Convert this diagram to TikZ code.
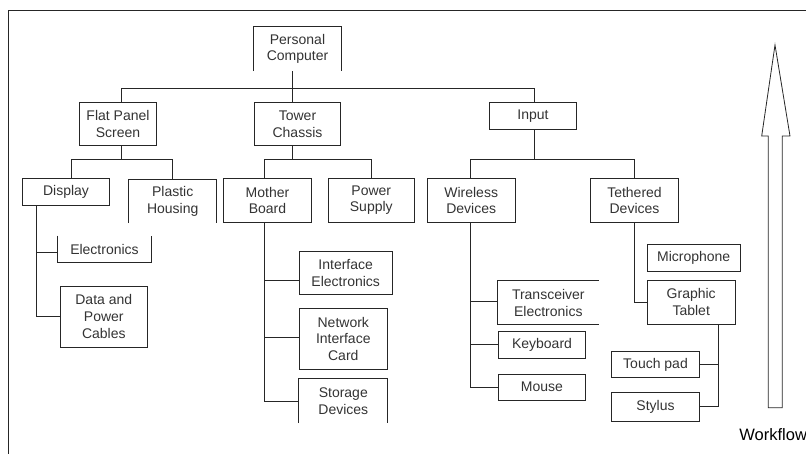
\documentclass[tikz,border=0pt]{standalone}
\usepackage{fontspec}
\setmainfont{Liberation Sans}
\begin{document}
\begin{tikzpicture}[x=1pt,y=-1pt,
  line width=0.9pt, draw=black!85,
  lbl/.style={inner sep=0pt, align=center, text=black!80,
    font=\fontsize{14}{16.6}\selectfont},
  bx/.style 2 args={lbl, draw, minimum width=#1pt, minimum height=#2pt},
  ob/.style 2 args={lbl, minimum width=#1pt, minimum height=#2pt},
  wire/.style={draw=black!85, line width=0.9pt}]
\useasboundingbox (0,0) rectangle (806,454);
% frame
\draw[wire] (8.3,454) -- (8.3,10) -- (806,10);
% level 0
\node[ob={86.4}{43.4}] (pc) at (297.5,49) {Personal\\Computer};
\draw[wire] (pc.south west) -- (pc.north west) -- (pc.north east) -- (pc.south east);
% level 1
\node[bx={77.4}{43}] (fps) at (118,124.2) {Flat Panel\\Screen};
\node[bx={86.4}{43}] (tc) at (297.5,124.2) {Tower\\Chassis};
\node[bx={87.4}{26.6}] (inp) at (533,116) {Input};
% level 2
\node[bx={86.6}{26.7}] (disp) at (66,191.7) {Display};
\node[ob={86.7}{42.7}] (ph) at (172.7,201.3) {Plastic\\Housing};
\draw[wire] (ph.south west) -- (ph.north west) -- (ph.north east) -- (ph.south east);
\node[bx={88.4}{44}] (mb) at (267.5,200.3) {Mother\\Board};
\node[bx={86}{44}] (ps) at (371.3,200.3) {Power\\Supply};
\node[bx={87.7}{44}] (wd) at (471.2,200.3) {Wireless\\Devices};
\node[bx={87.6}{44}] (td) at (634.5,200.3) {Tethered\\Devices};
% level 3
\node[ob={92.4}{26.3}] (el) at (104.5,249.2) {Electronics};
\draw[wire] (el.north west) -- (el.south west) -- (el.south east) -- (el.north east);
\node[bx={87.7}{61}] (dpc) at (103.8,316.5) {Data and\\Power\\Cables};
\node[bx={92.7}{43}] (ie) at (345.7,273.2) {Interface\\Electronics};
\node[bx={88}{60.7}] (nic) at (343.3,338.7) {Network\\Interface\\Card};
\node[ob={88}{43.4}] (sd) at (343.3,401) {Storage\\Devices};
\draw[wire] (sd.south west) -- (sd.north west) -- (sd.north east) -- (sd.south east);
\node[ob={100}{43.3}] (tr) at (548.3,302.7) {Transceiver\\Electronics};
\draw[wire] (tr.north east) -- (tr.north west) -- (tr.south west) -- (tr.south east);
\node[bx={87.4}{27}] (kb) at (542,344.5) {Keyboard};
\node[bx={87.4}{26.3}] (mo) at (542,387.2) {Mouse};
\node[bx={92.7}{26.7}] (mic) at (693.7,257.7) {Microphone};
\node[bx={87.7}{44}] (gt) at (691.2,302) {Graphic\\Tablet};
\node[bx={87.6}{25.6}] (tp) at (655.5,364.5) {Touch pad};
\node[bx={87.6}{28.3}] (st) at (655.5,406.8) {Stylus};
% connectors level 0 -> 1
\coordinate (b1) at ([xshift=-4.8pt]pc.south |- 0,88.3);
\draw[wire] ([xshift=-4.8pt]pc.south) -- (b1) -- ([xshift=-4.8pt]tc.north);
\draw[wire] ([xshift=3pt]fps.north) |- (b1) -| ([xshift=1.3pt]inp.north);
% fps -> display, housing
\coordinate (b2) at ([xshift=3pt]fps.south |- 0,159.3);
\draw[wire] ([xshift=3pt]fps.south) -- (b2);
\draw[wire] ([xshift=5pt]disp.north) |- (b2) -| (ph.north);
% tc -> mb, ps
\coordinate (b3) at ([xshift=-4.8pt]tc.south |- 0,159.3);
\draw[wire] ([xshift=-4.8pt]tc.south) -- (b3);
\draw[wire] ([xshift=-3.2pt]mb.north) |- (b3) -| ([xshift=0.4pt]ps.north);
% input -> wd, td
\coordinate (b4) at ([xshift=1.3pt]inp.south |- 0,159.3);
\draw[wire] ([xshift=1.3pt]inp.south) -- (b4);
\draw[wire] ([xshift=-1.2pt]wd.north) |- (b4) -| ([xshift=-0.5pt]td.north);
% display trunk
\coordinate (dt) at ([xshift=-30pt]disp.south);
\draw[wire] (dt) |- (dpc.west);
\draw[wire] ([yshift=-3pt]el.west -| dt) -- ([yshift=-3pt]el.west);
% mother board trunk
\coordinate (mt) at ([xshift=-3.2pt]mb.south);
\draw[wire] (mt) |- (sd.west);
\draw[wire] ([yshift=-7.5pt]ie.west -| mt) -- ([yshift=-7.5pt]ie.west);
\draw[wire] ([yshift=1.4pt]nic.west -| mt) -- ([yshift=1.4pt]nic.west);
% wireless trunk
\coordinate (wt) at ([xshift=-1.2pt]wd.south);
\draw[wire] (wt) |- (mo.west);
\draw[wire] ([yshift=1.7pt]tr.west -| wt) -- ([yshift=1.7pt]tr.west);
\draw[wire] (kb.west -| wt) -- (kb.west);
% tethered
\draw[wire] ([xshift=-0.5pt]td.south) |- (gt.west);
% graphic tablet trunk
\coordinate (gtt) at ([xshift=27.1pt]gt.south);
\draw[wire] (gtt) |- (st.east);
\draw[wire] (tp.east) -- (tp.east -| gtt);
% workflow arrow
\draw[wire, line width=0.8pt] (768.3,407.7) -- (768.3,136) -- (761.7,136) -- (775,45)
  -- (790,136) -- (782.3,136) -- (782.3,407.7) -- cycle;
\node[anchor=west, inner sep=0pt, font=\fontsize{16.5}{18}\selectfont] (wf) at (739,435) {Workflow};
\end{tikzpicture}
\end{document}
